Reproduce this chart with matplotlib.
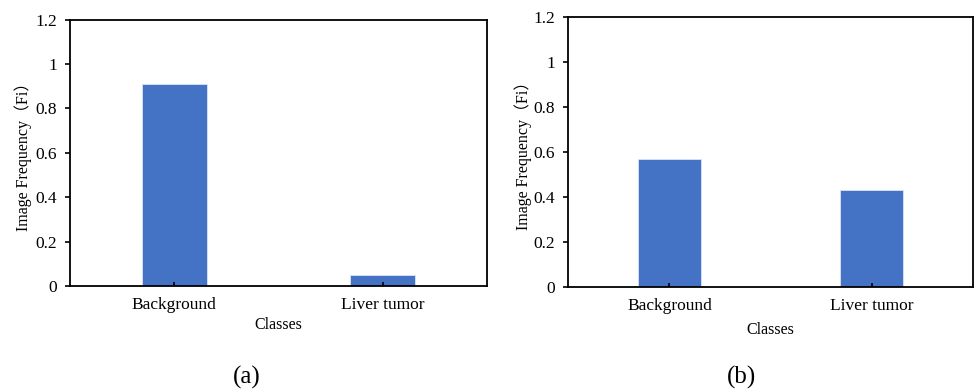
import matplotlib
matplotlib.use("Agg")
import matplotlib.pyplot as plt

plt.rcParams['font.family'] = ['Liberation Serif', 'Noto Sans CJK SC', 'DejaVu Sans']

# data
classes = ['Background', 'Liver tumor']
freq_a = [0.91, 0.05]
freq_b = [0.57, 0.43]
y_ticks = [0, 0.2, 0.4, 0.6, 0.8, 1.0, 1.2]
y_tick_labels = ['0', '0.2', '0.4', '0.6', '0.8', '1', '1.2']
captions = ['(a)', '(b)']

bar_color = '#4472C4'

fig = plt.figure(figsize=(9.75, 3.9), dpi=100)
ax_a = fig.add_axes([0.0718, 0.2667, 0.4277, 0.6833])
ax_b = fig.add_axes([0.5829, 0.2633, 0.4150, 0.6938])


def draw_panel(ax, values):
    x = range(len(classes))
    ax.bar(x, values, width=0.31, color=bar_color, edgecolor='#dce3f2', linewidth=0.6)
    ax.set_xlim(-0.5, len(classes) - 0.5)
    ax.set_ylim(0, 1.2)
    ax.set_xticks(list(x))
    ax.set_xticklabels(classes, fontsize=12.5)
    ax.set_yticks(y_ticks)
    ax.set_yticklabels(y_tick_labels, fontsize=12.5)
    ax.tick_params(axis='x', direction='in', length=3, width=1.2, pad=8)
    ax.tick_params(axis='y', direction='out', length=3.5, width=1.2, pad=6)
    for s in ax.spines.values():
        s.set_linewidth(1.3)
        s.set_color('black')
    ax.set_xlabel('Classes', fontsize=11.5)
    ax.set_ylabel('Image Frequency（Fi）', fontsize=11.5,
                  family=['Liberation Serif', 'Noto Sans CJK SC'])
    ax.xaxis.set_label_coords(0.5, -0.118)


draw_panel(ax_a, freq_a)
ax_a.yaxis.set_label_coords(-0.091, 0.5)
draw_panel(ax_b, freq_b)
ax_b.yaxis.set_label_coords(-0.089, 0.5)
ax_b.xaxis.set_label_coords(0.5, -0.128)

fig.text(247 / 975, 0.033, captions[0], fontsize=18, ha='center', va='center')
fig.text(741 / 975, 0.033, captions[1], fontsize=18, ha='center', va='center')

fig.savefig('out.png', dpi=100)
